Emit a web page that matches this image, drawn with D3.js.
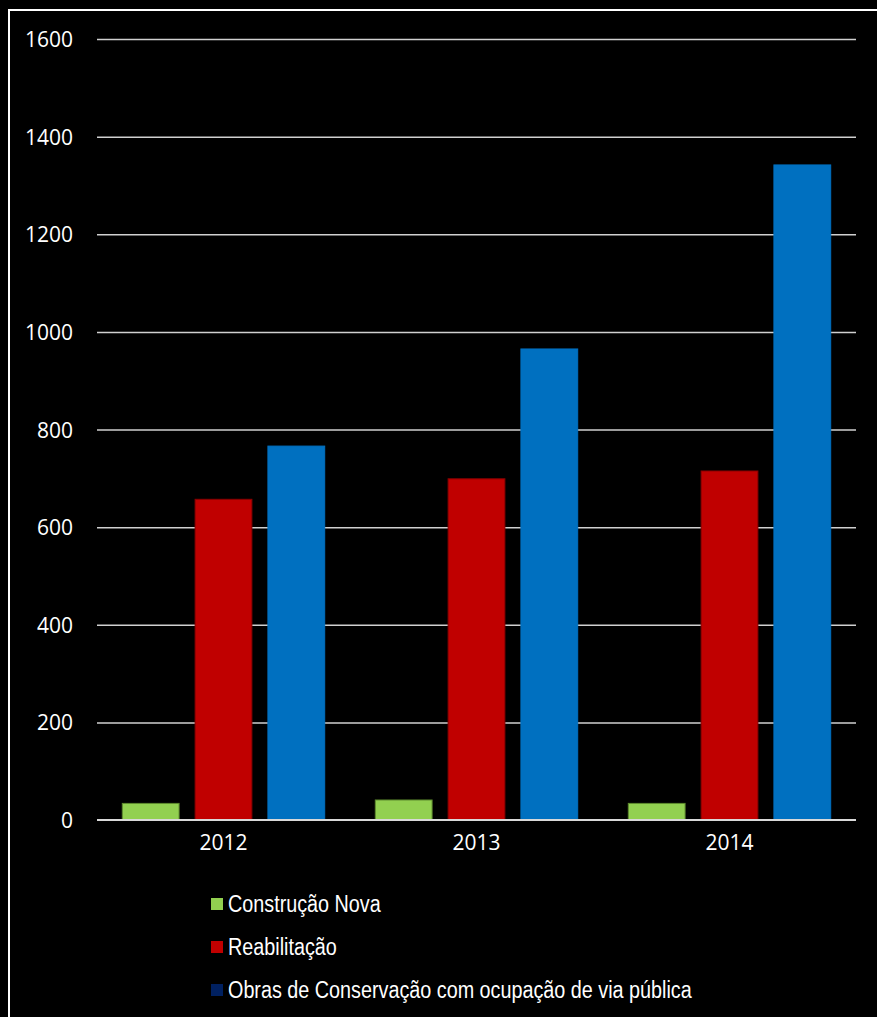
<!DOCTYPE html>
<html>
<head>
<meta charset="utf-8">
<script src="https://cdn.jsdelivr.net/npm/d3@7"></script>
<style>
  html, body { margin: 0; padding: 0; background: #000; }
  svg { display: block; }
</style>
</head>
<body>
<svg id="chart" width="877" height="1017"></svg>
<script>
// Licenças por tipo de obra, 2012–2014
const years = ["2012", "2013", "2014"];
const seriesNames = ["Construção Nova", "Reabilitação", "Obras de Conservação com ocupação de via pública"];
const construcaoNova = [34, 41, 34];
const reabilitacao = [657, 699, 715];
const obrasConservacao = [766, 965, 1342];
const yTicks = [0, 200, 400, 600, 800, 1000, 1200, 1400, 1600];

const barColors = ["#92D050", "#C00000", "#0070C0"];
const barStrokes = ["#5E8A2E", "#8B0000", "#0070C0"];
const legendColors = ["#92D050", "#C00000", "#002060"];

const svg = d3.select("#chart");
const W = 877, H = 1017;

svg.append("rect").attr("width", W).attr("height", H).attr("fill", "#000");
// frame around the slide area
svg.append("rect")
  .attr("x", 9).attr("y", 10)
  .attr("width", W + 10).attr("height", H + 10)
  .attr("fill", "none").attr("stroke", "#fff").attr("stroke-width", 2);

const plot = { left: 97, right: 856, top: 39, bottom: 820 };

const y = d3.scaleLinear().domain([0, 1600]).range([plot.bottom, plot.top]);
const x0 = d3.scaleBand().domain(years).range([plot.left, plot.right])
  .paddingInner(0.2).paddingOuter(0.1);
const x1 = d3.scaleBand().domain(d3.range(3)).range([0, x0.bandwidth()])
  .paddingInner(0.22);

const data = years.map((yr, i) => ({
  year: yr,
  values: [construcaoNova[i], reabilitacao[i], obrasConservacao[i]]
}));

// gridlines and y labels
const yAxis = d3.axisLeft(y).tickValues(yTicks)
  .tickSize(-(plot.right - plot.left)).tickPadding(24).tickFormat(d3.format("d"));
const gy = svg.append("g").attr("transform", `translate(${plot.left},0)`).call(yAxis);
gy.select(".domain").remove();
gy.selectAll(".tick line").attr("stroke", "#d0d0d0").attr("stroke-width", 1.5);
gy.selectAll(".tick text")
  .attr("fill", "#fff")
  .attr("font-family", "'Open Sans', Lato, sans-serif")
  .attr("font-size", 21)
  .attr("dy", "0.36em");
gy.selectAll(".tick").filter(d => d === 0).select("line").remove();

// bars
const groups = svg.append("g").selectAll("g").data(data).join("g")
  .attr("transform", d => `translate(${x0(d.year)},0)`);
groups.selectAll("rect")
  .data(d => d.values.map((v, k) => ({ v, k })))
  .join("rect")
  .attr("x", d => x1(d.k))
  .attr("width", x1.bandwidth())
  .attr("y", d => y(d.v))
  .attr("height", d => y(0) - y(d.v))
  .attr("fill", d => barColors[d.k])
  .attr("stroke", d => barStrokes[d.k])
  .attr("stroke-width", 1);

// x axis
const xAxis = d3.axisBottom(x0).tickSize(0).tickPadding(30);
const gx = svg.append("g").attr("transform", `translate(0,${plot.bottom})`).call(xAxis);
gx.select(".domain").remove();
svg.append("line")
  .attr("x1", plot.left).attr("x2", plot.right)
  .attr("y1", y(0)).attr("y2", y(0))
  .attr("stroke", "#d9d9d9").attr("stroke-width", 2);
gx.selectAll(".tick text")
  .attr("fill", "#fff")
  .attr("font-family", "'Open Sans', Lato, sans-serif")
  .attr("font-size", 21)
  .attr("dy", "0");

// legend (sans, narrowed horizontally)
const legend = svg.append("g").attr("transform", "translate(211,898)");
const items = legend.selectAll("g").data(seriesNames).join("g")
  .attr("transform", (d, i) => `translate(0,${i * 43})`);
items.append("rect").attr("width", 12).attr("height", 12)
  .attr("fill", (d, i) => legendColors[i]);
items.append("text")
  .attr("transform", "translate(17,14) scale(0.86,1)")
  .attr("fill", "#fff")
  .attr("font-family", "'Liberation Sans', Arial, sans-serif")
  .attr("font-size", 23)
  .text(d => d);
</script>
</body>
</html>
